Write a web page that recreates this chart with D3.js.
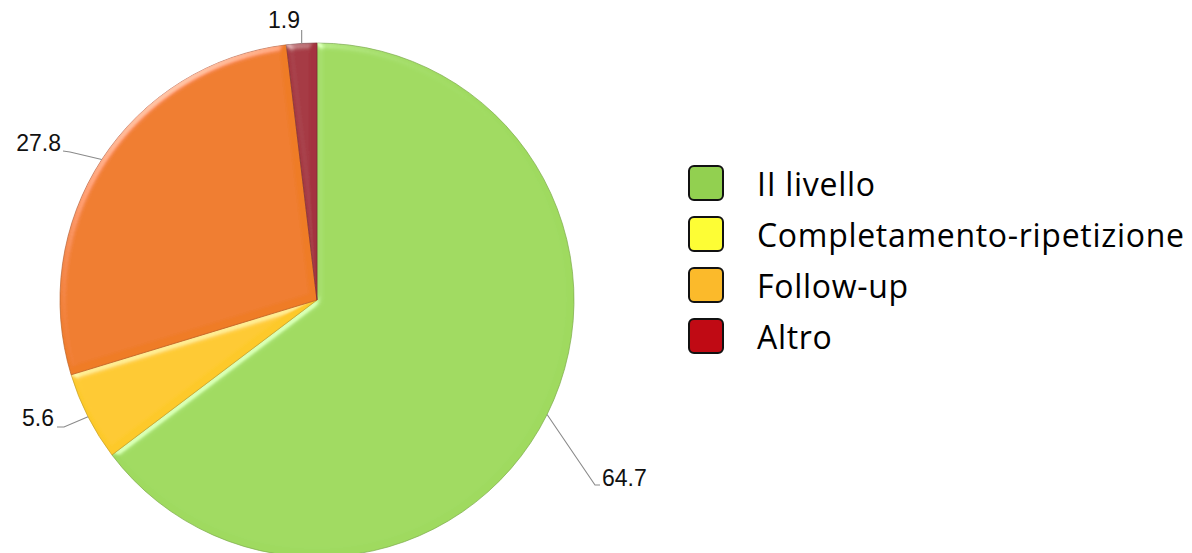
<!DOCTYPE html>
<html>
<head>
<meta charset="utf-8">
<script src="https://cdn.jsdelivr.net/npm/d3@7"></script>
<style>
  html, body { margin: 0; padding: 0; background: #fff; }
  svg { display: block; }
</style>
</head>
<body>
<svg id="chart" width="1192" height="553"></svg>
<script>
// Category names and shares (%)
const categories = ["II livello", "Completamento-ripetizione", "Follow-up", "Altro"];
const values = [64.7, 5.6, 27.8, 1.9];
const valueLabels = ["64.7", "5.6", "27.8", "1.9"];

// Colours: shaded slice fills and legend swatches
const sliceColors = ["#9fda5f", "#fdc92c", "#ef7b28", "#a4333f"];
const swatchColors = ["#92d050", "#fdfd35", "#fbba2b", "#c00a14"];

const cx = 317, cy = 300, R = 257;

const svg = d3.select("#chart");

// Soft bevel on each slice: highlight on lit edges
const defs = svg.append("defs");
const f = defs.append("filter").attr("id", "bevel")
  .attr("x", "-5%").attr("y", "-5%").attr("width", "110%").attr("height", "110%");
f.append("feGaussianBlur").attr("in", "SourceAlpha").attr("stdDeviation", 3.5).attr("result", "blur");
const spec = f.append("feSpecularLighting").attr("in", "blur")
  .attr("surfaceScale", 4).attr("specularConstant", 0.5).attr("specularExponent", 16)
  .attr("lighting-color", "#ffffff").attr("result", "spec");
spec.append("feDistantLight").attr("azimuth", 235).attr("elevation", 14);
f.append("feComposite").attr("in", "spec").attr("in2", "SourceAlpha").attr("operator", "in").attr("result", "specIn");
f.append("feComposite").attr("in", "SourceGraphic").attr("in2", "specIn")
  .attr("operator", "arithmetic").attr("k1", 0).attr("k2", 1).attr("k3", 0.7).attr("k4", 0);

const pie = d3.pie().sort(null).value(d => d).startAngle(0).endAngle(2 * Math.PI);
const arcs = pie(values);
const arc = d3.arc().innerRadius(0).outerRadius(R);

const g = svg.append("g").attr("transform", `translate(${cx},${cy})`);
g.selectAll("path.slice")
  .data(arcs)
  .join("path")
  .attr("class", "slice")
  .attr("d", arc)
  .attr("fill", (d, i) => sliceColors[i])
  .attr("stroke", (d, i) => d3.color(sliceColors[i]).darker(0.7))
  .attr("stroke-width", 0.7)
  .attr("filter", "url(#bevel)");

// Data labels with leader lines
// x,y: text position; lineStart/bend: the leader's polyline before it reaches the rim
const labelLayout = [
  { x: 602, y: 486, anchor: "start", lineStart: [600, 485], bend: [595, 485] },
  { x: 54, y: 426, anchor: "end", lineStart: [57, 427], bend: [64, 427] },
  { x: 61, y: 151, anchor: "end", lineStart: [63, 151], bend: [70, 152] },
  { x: 300, y: 28, anchor: "end", lineStart: null, bend: null }
];

const rim = (a) => [cx + R * Math.sin(a), cy - R * Math.cos(a)];

arcs.forEach((d, i) => {
  const L = labelLayout[i];
  const p = rim((d.startAngle + d.endAngle) / 2);
  const pts = L.bend ? [L.lineStart, L.bend, p] : [[p[0], L.y + 2], p];
  svg.append("path")
    .attr("d", d3.line()(pts))
    .attr("fill", "none")
    .attr("stroke", "#8a8a8a")
    .attr("stroke-width", 1.1);
  svg.append("text")
    .attr("x", L.x).attr("y", L.y)
    .attr("text-anchor", L.anchor)
    .attr("font-family", "'Liberation Sans', Arial, sans-serif")
    .attr("font-size", 23)
    .attr("fill", "#111")
    .text(valueLabels[i]);
});

// Legend
const legend = svg.append("g");
const legX = 689, legTop = 166, legStep = 51, sw = 34;
categories.forEach((c, i) => {
  const y = legTop + i * legStep;
  legend.append("rect")
    .attr("x", legX).attr("y", y)
    .attr("width", sw).attr("height", sw)
    .attr("rx", 5).attr("ry", 5)
    .attr("fill", swatchColors[i])
    .attr("stroke", "#111").attr("stroke-width", 2);
  legend.append("text")
    .attr("x", 757).attr("y", y + 30)
    .attr("font-family", "'Open Sans', sans-serif")
    .attr("font-size", 32)
    .attr("letter-spacing", 0.7)
    .attr("fill", "#000")
    .text(c);
});
</script>
</body>
</html>
